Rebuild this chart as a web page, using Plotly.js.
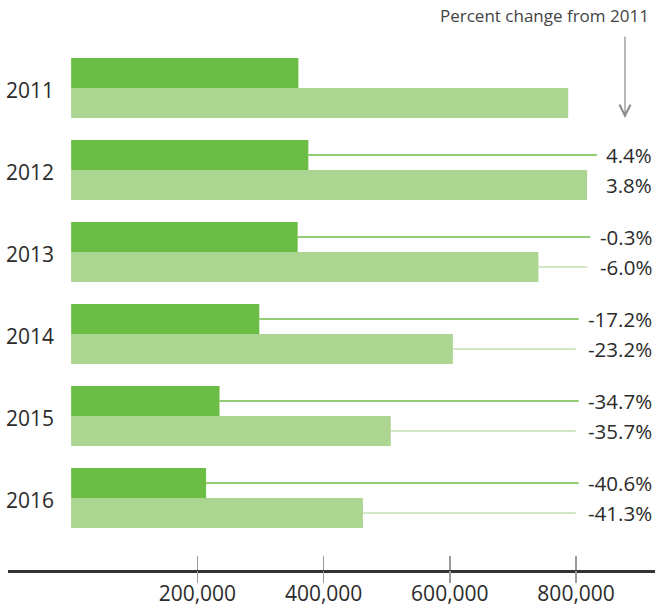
<!DOCTYPE html>
<html>
<head>
<meta charset="utf-8">
<script src="https://cdn.plot.ly/plotly-3.0.1.min.js"></script>
<style>
  html, body { margin: 0; padding: 0; background: #fff; }
  #chart { width: 656px; height: 609px; }
</style>
</head>
<body>
<div id="chart"></div>
<script>
// values
const years = [2011, 2012, 2013, 2014, 2015, 2016];
const darkValues = [360000, 375800, 358900, 298100, 235100, 213800];
const lightValues = [787500, 817400, 740300, 604800, 506400, 462300];
const darkChange = ['', '4.4%', '-0.3%', '-17.2%', '-34.7%', '-40.6%'];
const lightChange = ['', '3.8%', '-6.0%', '-23.2%', '-35.7%', '-41.3%'];
const xTicks = [200000, 400000, 600000, 800000];
const noteText = 'Percent change from 2011';

const darkColor = '#6cbd45';
const lightColor = '#add592';
const textColor = '#2b2b2b';
const fontFamily = '"Open Sans", "DejaVu Sans", sans-serif';

const W = 656, H = 609;
const margin = { l: 8, r: 1, t: 6, b: 39 };
const xRange = [-100000, 925000];
const yRange = [2016.878, 2010];
const bargap = 0.27;
const barOffset = (1 - bargap) / 4;

const plotW = W - margin.l - margin.r;
const plotH = H - margin.t - margin.b;

// pixel helpers for the leader line ends
function px2x(px) {
  return xRange[0] + (px - margin.l) * (xRange[1] - xRange[0]) / plotW;
}
function x2px(v) {
  return margin.l + (v - xRange[0]) * plotW / (xRange[1] - xRange[0]);
}
function paperX(px) { return (px - margin.l) / plotW; }
function paperY(py) { return (H - margin.b - py) / plotH; }

// rough glyph widths of Open Sans at 20.5px, to stop the leader lines short of the labels
const glyphW = { '-': 6.6, '.': 5.5, '%': 17.2 };
const labelRight = 654;
function labelLeft(s) {
  let w = 0;
  for (const ch of s) w += glyphW[ch] || 11.7;
  return labelRight - w;
}

let traces = [
  {
    type: 'bar', orientation: 'h',
    x: darkValues, y: years,
    marker: { color: darkColor },
    hoverinfo: 'x', showlegend: false
  },
  {
    type: 'bar', orientation: 'h',
    x: lightValues, y: years,
    marker: { color: lightColor },
    hoverinfo: 'x', showlegend: false
  },
  {
    type: 'scatter', x: [], y: [], xaxis: 'x2', yaxis: 'y',
    hoverinfo: 'skip', showlegend: false
  }
];

let shapes = [];
let annotations = [];

years.forEach((yr, i) => {
  annotations.push({
    xref: 'paper', yref: 'y', x: paperX(4), y: yr,
    xanchor: 'left', yanchor: 'middle', yshift: -2, showarrow: false,
    text: String(yr), font: { size: 21, color: textColor, family: fontFamily }
  });

  [[darkChange[i], darkValues[i], -barOffset, darkColor, 11],
   [lightChange[i], lightValues[i], barOffset, '#c1e0b0', 14]].forEach(([lbl, val, off, col, gap]) => {
    if (!lbl) return;
    annotations.push({
      xref: 'paper', yref: 'y', x: paperX(labelRight), y: yr + off,
      xanchor: 'right', yanchor: 'middle', showarrow: false,
      text: lbl, font: { size: 20.5, color: textColor, family: fontFamily }
    });
    const endPx = labelLeft(lbl) - gap;
    if (endPx - x2px(val) > 12) {
      shapes.push({
        type: 'line', xref: 'x', yref: 'y',
        x0: val, x1: px2x(endPx), y0: yr + off, y1: yr + off,
        line: { color: col, width: 1.6 }
      });
    }
  });
});

annotations.push({
  xref: 'paper', yref: 'paper', x: paperX(651), y: paperY(16),
  xanchor: 'right', yanchor: 'middle', showarrow: false,
  text: noteText, font: { size: 17, color: '#444', family: fontFamily }
});
annotations.push({
  xref: 'paper', yref: 'paper', x: paperX(625), y: paperY(118),
  text: '', showarrow: true, ax: 0, ay: -83,
  arrowhead: 5, arrowsize: 1.8, arrowwidth: 1.2, arrowcolor: '#8a8a8a'
});

const layout = {
  width: W, height: H,
  margin: margin,
  paper_bgcolor: '#fff', plot_bgcolor: '#fff',
  barmode: 'group', bargap: bargap, bargroupgap: 0,
  font: { family: fontFamily, color: textColor },
  xaxis: {
    range: xRange, showgrid: false, zeroline: false,
    showline: true, linecolor: '#333', linewidth: 3,
    ticks: 'inside', ticklen: 14, tickwidth: 1.5, tickcolor: '#9a9a9a',
    tickvals: xTicks, tickformat: ',d', ticklabelstandoff: 3,
    tickfont: { size: 21, color: textColor, family: fontFamily }
  },
  xaxis2: {
    range: xRange, overlaying: 'x', anchor: 'y', side: 'bottom',
    showgrid: false, zeroline: false, showline: false,
    ticks: 'outside', ticklen: 12, tickwidth: 1.5, tickcolor: '#9a9a9a',
    tickvals: xTicks, showticklabels: false
  },
  yaxis: {
    range: yRange, visible: false, showgrid: false, zeroline: false
  },
  shapes: shapes,
  annotations: annotations
};

Plotly.newPlot('chart', traces, layout, { displayModeBar: false, staticPlot: true });
</script>
</body>
</html>
